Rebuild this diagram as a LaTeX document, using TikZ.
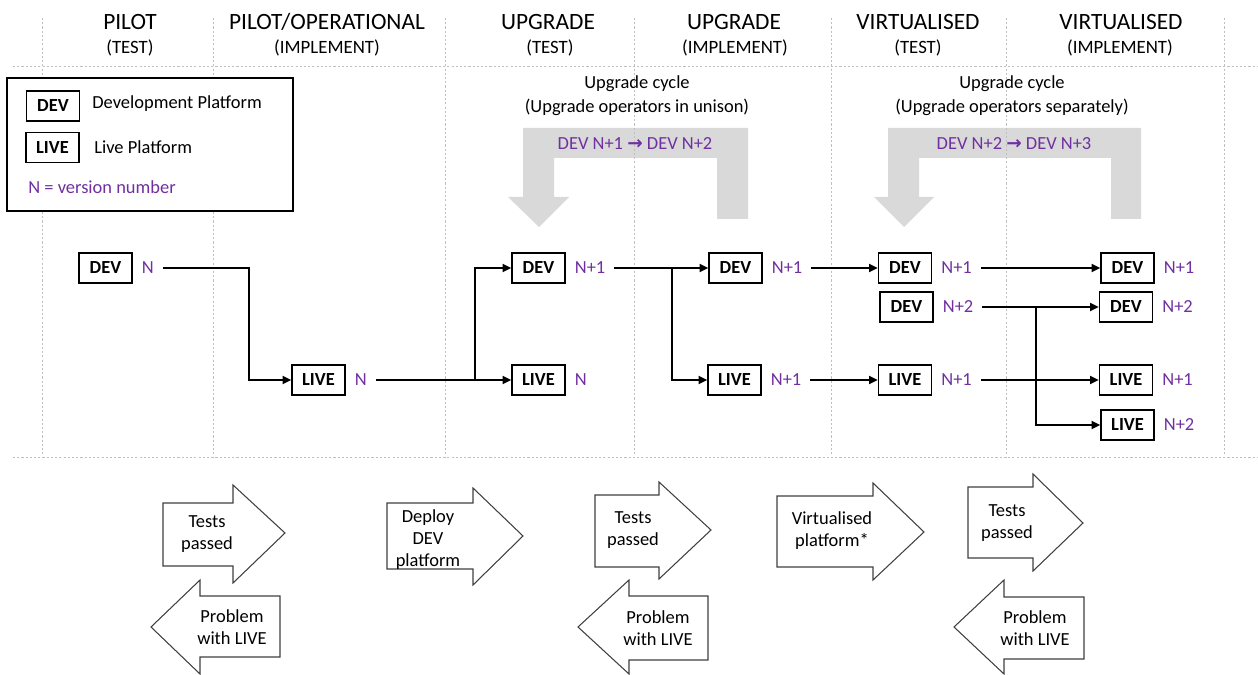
\documentclass[tikz,border=0pt]{standalone}
\usepackage{fontspec}
\setmainfont{Carlito}
\newfontfamily\arrowsym{DejaVu Sans}
\usepackage{xcolor}
\usepackage{tikz}
\usetikzlibrary{positioning,arrows.meta}
\definecolor{vpurple}{HTML}{7030A0}
\definecolor{cyclegrey}{HTML}{D9D9D9}
\definecolor{sepgrey}{HTML}{BFBFBF}

\begin{document}
\begin{tikzpicture}[x=0.02cm, y=-0.02cm,
    pbox/.style={draw, line width=0.8pt, minimum width=1.06cm, minimum height=0.6cm, inner sep=0pt, font=\fontsize{10.5}{12}\selectfont\bfseries},
    tag/.style={text=vpurple, inner xsep=5pt, inner ysep=1pt, font=\fontsize{10.5}{12}\selectfont},
    flow/.style={line width=1.2pt, -{Triangle[length=5pt,width=4.5pt]}},
    sepline/.style={sepgrey, line width=0.5pt, dash pattern=on 1.2pt off 1.2pt},
    blockarrow/.style={draw=black!75, fill=white, line width=0.6pt, line join=miter},
    txt/.style={font=\fontsize{10.5}{12.5}\selectfont, align=center, inner sep=0pt},
    heading/.style={font=\fontsize{13.3}{16}\selectfont, inner sep=0pt},
    subheading/.style={font=\fontsize{10.7}{13}\selectfont, inner sep=0pt}]
    \useasboundingbox (0,0) rectangle (1258,675);

    % upgrade cycles
    \fill[cyclegrey] (523,128) -- (748,128) -- (748,219) -- (717,219) -- (717,158) -- (554,158) -- (554,197) -- (569,197) -- (539,227) -- (508,197) -- (523,197) -- cycle;
    \fill[cyclegrey] (888,128) -- (1141,128) -- (1141,219) -- (1111,219) -- (1111,158) -- (919,158) -- (919,197) -- (934,197) -- (904,227) -- (874,197) -- (888,197) -- cycle;

    % phase separators
    \draw[sepline] (13,66) -- (1258,66);
    \draw[sepline] (13,457) -- (1258,457);
    \draw[sepline] (42,18) -- (42,457);
    \draw[sepline] (213,18) -- (213,457);
    \draw[sepline] (445,18) -- (445,457);
    \draw[sepline] (634,18) -- (634,457);
    \draw[sepline] (831,18) -- (831,457);
    \draw[sepline] (1006,18) -- (1006,457);
    \draw[sepline] (1224,18) -- (1224,457);

    % phases
    \node[heading] (h1) at (130,22) {PILOT};
    \node[subheading] (s1) at (130,48) {(TEST)};
    \node[heading] (h2) at (327,22) {PILOT/OPERATIONAL};
    \node[subheading] (s2) at (327,48) {(IMPLEMENT)};
    \node[heading] (h3) at (548,22) {UPGRADE};
    \node[subheading] (s3) at (550,48) {(TEST)};
    \node[heading] (h4) at (734,22) {UPGRADE};
    \node[subheading] (s4) at (735,48) {(IMPLEMENT)};
    \node[heading] (h5) at (918,22) {VIRTUALISED};
    \node[subheading] (s5) at (918,48) {(TEST)};
    \node[heading] (h6) at (1121,22) {VIRTUALISED};
    \node[subheading] (s6) at (1120,48) {(IMPLEMENT)};

    % key
    \draw[fill=white, line width=0.8pt] (7,78) rectangle (293,211);
    \node[pbox] (keydev) at (53,106) {DEV};
    \node[pbox] (keylive) at (52.5,147.5) {LIVE};
    \node[txt, anchor=west] (keydevtxt) at (92,104) {Development Platform};
    \node[txt, anchor=west] (keylivetxt) at (94,147) {Live Platform};
    \node[txt, anchor=west, text=vpurple] (keyn) at (28,187) {N = version number};

    % cycle labels
    \node[txt] (cyc1) at (637,84) {Upgrade cycle};
    \node[txt] (cyc1b) at (637,107) {(Upgrade operators in unison)};
    \node[txt, text=vpurple] (up1) at (635,144) {DEV N+1 {\arrowsym\bfseries →} DEV N+2};
    \node[txt] (cyc2) at (1012,84) {Upgrade cycle};
    \node[txt] (cyc2b) at (1012,107) {(Upgrade operators separately)};
    \node[txt, text=vpurple] (up2) at (1014,144) {DEV N+2 {\arrowsym\bfseries →} DEV N+3};

    % platforms
    \node[pbox] (dev1) at (105.5,268) {DEV};
    \node[tag, right=0pt of dev1] (dev1v) {N};
    \node[pbox] (live1) at (318.5,380) {LIVE};
    \node[tag, right=0pt of live1] (live1v) {N};
    \node[pbox] (dev2) at (538.5,268) {DEV};
    \node[tag, right=0pt of dev2] (dev2v) {N+1};
    \node[pbox] (live2) at (538.5,380) {LIVE};
    \node[tag, right=0pt of live2] (live2v) {N};
    \node[pbox] (dev3) at (735.5,268) {DEV};
    \node[tag, right=0pt of dev3] (dev3v) {N+1};
    \node[pbox] (live3) at (734.5,380) {LIVE};
    \node[tag, right=0pt of live3] (live3v) {N+1};
    \node[pbox] (dev4) at (905,268) {DEV};
    \node[tag, right=0pt of dev4] (dev4v) {N+1};
    \node[pbox] (dev5) at (906.5,307) {DEV};
    \node[tag, right=0pt of dev5] (dev5v) {N+2};
    \node[pbox] (live4) at (905,380) {LIVE};
    \node[tag, right=0pt of live4] (live4v) {N+1};
    \node[pbox] (dev6) at (1127.5,268) {DEV};
    \node[tag, right=0pt of dev6] (dev6v) {N+1};
    \node[pbox] (dev7) at (1126,307) {DEV};
    \node[tag, right=0pt of dev7] (dev7v) {N+2};
    \node[pbox] (live5) at (1126,380) {LIVE};
    \node[tag, right=0pt of live5] (live5v) {N+1};
    \node[pbox] (live6) at (1127.5,425) {LIVE};
    \node[tag, right=0pt of live6] (live6v) {N+2};

    \draw[flow] (dev1v.east) -- ++(86,0) |- (live1.west);
    \draw[flow] (live1v.east) -- (live2.west);
    \draw[flow] (live2.west) ++(-36,0) |- (dev2.west);
    \draw[flow] (dev2v.east) -- (dev3.west);
    \draw[flow] (dev3.west) ++(-36,0) |- (live3.west);
    \draw[flow] (dev3v.east) -- (dev4.west);
    \draw[flow] (live3v.east) -- (live4.west);
    \draw[flow] (dev4v.east) -- (dev6.west);
    \draw[flow] (dev5v.east) -- (dev7.west);
    \draw[flow] (dev7.west) ++(-63,0) |- (live6.west);
    \draw[flow] (live4v.east) -- (live5.west);

    % transitions
    \draw[blockarrow] (163,503) -- (233,503) -- (233,485) -- (285,533) -- (233,583) -- (233,566) -- (163,566) -- cycle;
    \node[txt] (pass1) at (207,534) {Tests\\passed};
    \draw[blockarrow] (280,596) -- (200,596) -- (200,580) -- (151,627) -- (200,674) -- (200,657) -- (280,657) -- cycle;
    \node[txt] (fail1) at (232,627) {Problem\\with LIVE};
    \draw[blockarrow] (387,503) -- (473,503) -- (473,488) -- (523,536) -- (473,585) -- (473,569) -- (387,569) -- cycle;
    \node[txt] (deploy) at (428,540) {Deploy\\DEV\\platform};
    \draw[blockarrow] (595,495) -- (659,495) -- (659,482) -- (711,530) -- (659,579) -- (659,567) -- (595,567) -- cycle;
    \node[txt] (pass2) at (633,530) {Tests\\passed};
    \draw[blockarrow] (708,596) -- (629,596) -- (629,580) -- (578,627) -- (629,674) -- (629,660) -- (708,660) -- cycle;
    \node[txt] (fail2) at (658,628) {Problem\\with LIVE};
    \draw[blockarrow] (777,496) -- (873,496) -- (873,483) -- (924,532) -- (873,580) -- (873,567) -- (777,567) -- cycle;
    \node[txt] (virt) at (832,531) {Virtualised\\platform*};
    \draw[blockarrow] (968,487) -- (1033,487) -- (1033,474) -- (1083,523) -- (1033,571) -- (1033,558) -- (968,558) -- cycle;
    \node[txt] (pass3) at (1007,523) {Tests\\passed};
    \draw[blockarrow] (1084,597) -- (1004,597) -- (1004,580) -- (954,627) -- (1004,674) -- (1004,659) -- (1084,659) -- cycle;
    \node[txt] (fail3) at (1035,628) {Problem\\with LIVE};
\end{tikzpicture}
\end{document}
